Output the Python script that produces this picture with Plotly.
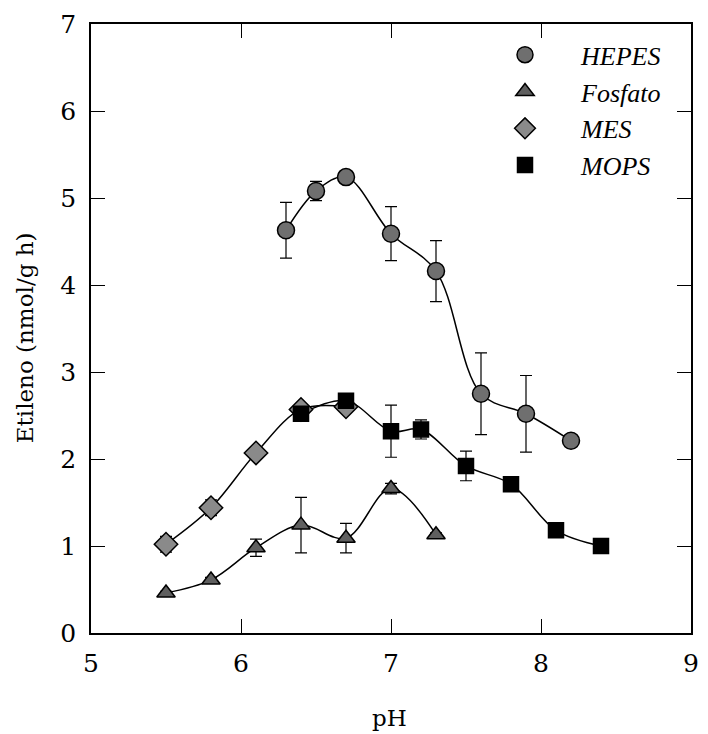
import plotly.graph_objects as go

hepes_x = [6.3, 6.5, 6.7, 7.0, 7.3, 7.6, 7.9, 8.2]
hepes_y = [4.63, 5.08, 5.24, 4.59, 4.16, 2.75, 2.52, 2.21]
hepes_e = [0.32, 0.11, 0.04, 0.31, 0.35, 0.47, 0.44, 0.04]

fosf_x = [5.5, 5.8, 6.1, 6.4, 6.7, 7.0, 7.3]
fosf_y = [0.46, 0.61, 0.98, 1.24, 1.09, 1.66, 1.13]
fosf_e = [0.02, 0.03, 0.10, 0.32, 0.17, 0.06, 0.02]

mes_x = [5.5, 5.8, 6.1, 6.4, 6.7]
mes_y = [1.02, 1.44, 2.07, 2.57, 2.60]
mes_e = [0.09, 0.09, 0.06, 0.04, 0.04]

mops_x = [6.4, 6.7, 7.0, 7.2, 7.5, 7.8, 8.1, 8.4]
mops_y = [2.52, 2.67, 2.32, 2.34, 1.92, 1.71, 1.18, 1.00]
mops_e = [0.08, 0.08, 0.30, 0.11, 0.17, 0.03, 0.03, 0.03]

x_ticks = [5, 6, 7, 8, 9]
y_ticks = [0, 1, 2, 3, 4, 5, 6, 7]

series = [
    ("HEPES", hepes_x, hepes_y, hepes_e, "circle", "#6f6f6f", 17),
    ("Fosfato", fosf_x, fosf_y, fosf_e, "triangle-up", "#5f5f5f", 16),
    ("MES", mes_x, mes_y, mes_e, "diamond", "#8a8a8a", 18),
    ("MOPS", mops_x, mops_y, mops_e, "square", "#000000", 15),
]

fig = go.Figure()
for name, xs, ys, es, sym, col, sz in series:
    fig.add_trace(go.Scatter(
        x=xs, y=ys, mode="lines", line=dict(color="black", width=1.5, shape="spline", smoothing=1.0),
        showlegend=False, hoverinfo="skip"))
for name, xs, ys, es, sym, col, sz in series:
    fig.add_trace(go.Scatter(
        x=xs, y=ys, mode="markers", name=name,
        marker=dict(symbol=sym, size=sz, color=col, line=dict(color="black", width=1.5)),
        error_y=dict(type="data", array=es, visible=True, color="black", thickness=1.2, width=6),
    ))

serif = "DejaVu Serif"
fig.update_layout(
    width=708, height=734,
    margin=dict(l=91, r=9, t=24, b=101),
    paper_bgcolor="white", plot_bgcolor="white",
    font=dict(family=serif, size=24, color="black"),
    showlegend=True,
    legend=dict(x=0.63, y=0.988, xanchor="left", yanchor="top",
                font=dict(family="Liberation Serif", size=26, style="italic"),
                itemwidth=102, bgcolor="rgba(0,0,0,0)", tracegroupgap=0),
    xaxis=dict(range=[5, 9], tickvals=x_ticks, ticks="inside", ticklen=14, tickwidth=1,
               tickcolor="black", showline=True, linecolor="black", linewidth=1.5, mirror="ticks",
               showgrid=False, zeroline=False, tickfont=dict(size=25), ticklabelstandoff=7),
    yaxis=dict(range=[0, 7], tickvals=y_ticks, ticks="inside", ticklen=14, tickwidth=1,
               tickcolor="black", showline=True, linecolor="black", linewidth=1.5, mirror="ticks",
               showgrid=False, zeroline=False, tickfont=dict(size=25), ticklabelstandoff=8),
    annotations=[
        dict(text="Etileno (nmol/g h)", xref="paper", yref="paper", x=-0.11, y=0.484,
             xanchor="center", yanchor="middle", textangle=-90, showarrow=False,
             font=dict(family=serif, size=23)),
        dict(text="pH", xref="paper", yref="paper", x=0.497, y=-0.1396,
             xanchor="center", yanchor="middle", showarrow=False,
             font=dict(family=serif, size=23)),
    ],
)

fig.write_html("out.html")
